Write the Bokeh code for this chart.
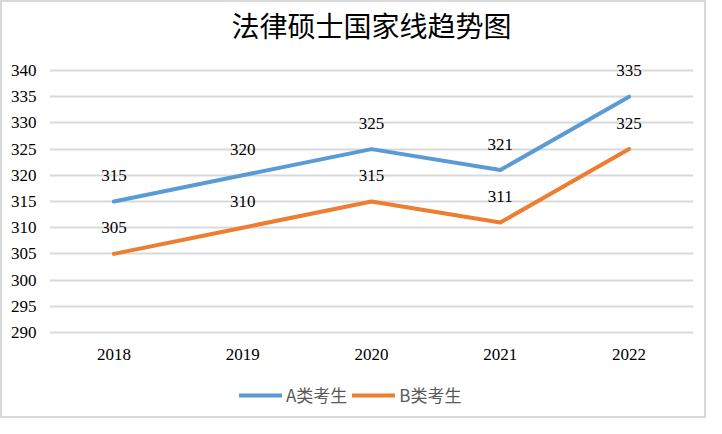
from bokeh.plotting import figure
from bokeh.models import ColumnDataSource, LabelSet, Label, Legend, LegendItem, FactorRange, Range1d, FixedTicker
from bokeh.embed import file_html
from bokeh.resources import INLINE

years = ["2018", "2019", "2020", "2021", "2022"]
series_a = [315, 320, 325, 321, 335]
series_b = [305, 310, 315, 311, 325]
name_a = "A类考生"
name_b = "B类考生"
title_text = "法律硕士国家线趋势图"
y_ticks = [290, 295, 300, 305, 310, 315, 320, 325, 330, 335, 340]

BLUE = "#5B9BD5"
ORANGE = "#ED7D31"
GRID = "#D9D9D9"
NUM_FONT = "Liberation Serif"
CJK_FONT = "Noto Sans CJK SC"

# value range 290..340 maps to 262 px; extend range so frame covers the whole height
PX_PER_UNIT = 262 / 50.0
y_hi = 340 + 68 / PX_PER_UNIT
y_lo = 290 - 88 / PX_PER_UNIT

p = figure(width=706, height=418, x_range=FactorRange(*years), y_range=Range1d(y_lo, y_hi),
           output_backend="svg", toolbar_location=None,
           min_border_left=47, min_border_right=15, min_border_top=0, min_border_bottom=0,
           styles={"border": "2px solid #D9D9D9", "box-sizing": "border-box"})
p.outline_line_color = None
p.background_fill_color = "white"
p.border_fill_color = "white"

p.xgrid.grid_line_color = None
p.ygrid.grid_line_color = GRID
p.ygrid.grid_line_width = 2
p.yaxis.ticker = FixedTicker(ticks=y_ticks)
p.xaxis.fixed_location = 290

for ax in (p.xaxis[0], p.yaxis[0]):
    ax.axis_line_color = None
    ax.major_tick_line_color = None
    ax.minor_tick_line_color = None
    ax.major_tick_out = 0
    ax.major_tick_in = 0
    ax.major_label_text_font = NUM_FONT
    ax.major_label_text_font_size = "17px"
    ax.major_label_text_color = "#000000"
p.xaxis.major_label_standoff = 16
p.yaxis.major_label_standoff = 13

src_a = ColumnDataSource(dict(x=years, y=series_a, t=[str(v) for v in series_a]))
src_b = ColumnDataSource(dict(x=years, y=series_b, t=[str(v) for v in series_b]))

ra = p.line("x", "y", source=src_a, line_color=BLUE, line_width=4, line_cap="round", line_join="round")
rb = p.line("x", "y", source=src_b, line_color=ORANGE, line_width=4, line_cap="round", line_join="round")

for src in (src_a, src_b):
    p.add_layout(LabelSet(x="x", y="y", text="t", source=src, y_offset=26,
                          text_align="center", text_baseline="middle",
                          text_font=NUM_FONT, text_font_size="17px", text_color="#000000"))

p.add_layout(Label(x=2.5, y=340 + 46 / PX_PER_UNIT, text=title_text, text_align="center",
                   text_baseline="middle", text_font=CJK_FONT, text_font_size="28px",
                   text_color="#000000"))

legend = Legend(items=[LegendItem(label=name_a, renderers=[ra]), LegendItem(label=name_b, renderers=[rb])],
                orientation="horizontal", location=(190, 13),
                glyph_width=43, glyph_height=20, label_height=20, label_standoff=4, spacing=5,
                padding=0, margin=0, border_line_alpha=0, background_fill_alpha=0,
                label_text_font=CJK_FONT, label_text_font_size="17px", label_text_color="#595959",
                label_text_baseline="middle")
p.add_layout(legend, "center")

open("out.html", "w").write(file_html(p, INLINE))
